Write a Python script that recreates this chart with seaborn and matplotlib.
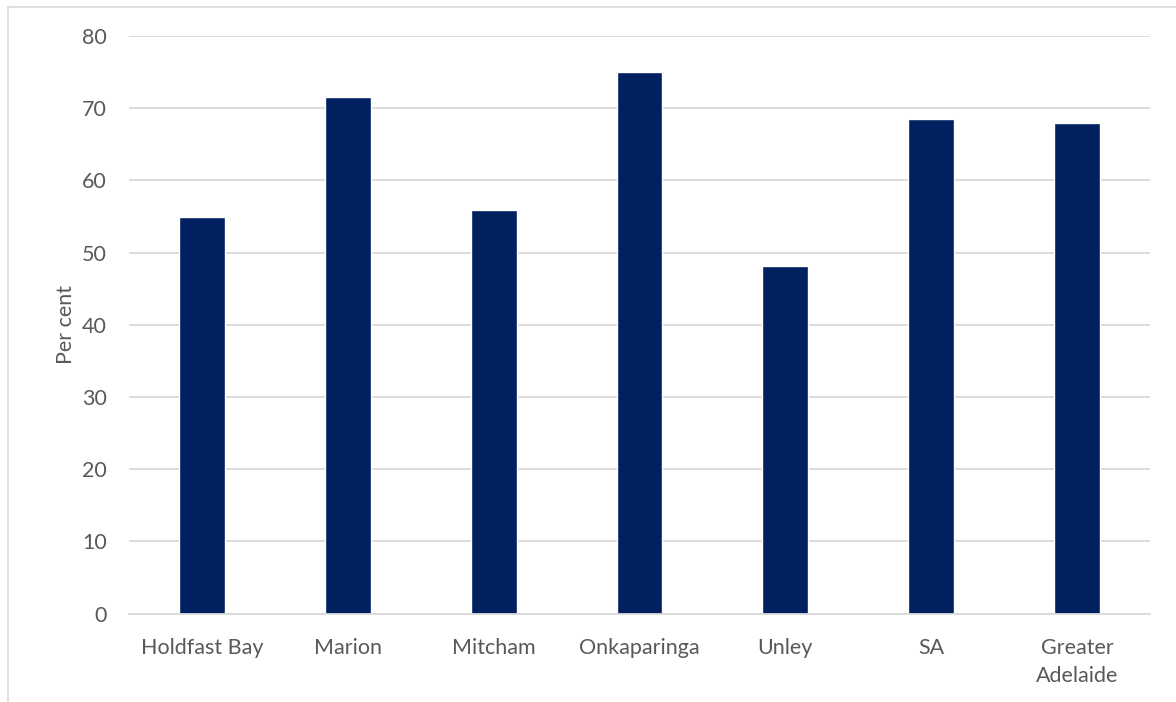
import matplotlib
matplotlib.use("Agg")
import matplotlib.pyplot as plt
import seaborn as sns
import pandas as pd
from matplotlib.patches import Rectangle

categories = ["Holdfast Bay", "Marion", "Mitcham", "Onkaparinga", "Unley", "SA", "Greater\nAdelaide"]
values = [54.9, 71.5, 55.9, 75.0, 48.1, 68.5, 67.9]
yticks = [0, 10, 20, 30, 40, 50, 60, 70, 80]

sns.set_style("white")
plt.rcParams['font.family'] = ['Lato', 'DejaVu Sans']

df = pd.DataFrame({"cat": categories, "val": values})

fig = plt.figure(figsize=(11.76, 7.02), dpi=100)
ax = fig.add_axes([129/1176, 1 - 613.5/702, (1150-129)/1176, (613.5-36)/702])

sns.barplot(data=df, x="cat", y="val", color="#002060", width=0.315, ax=ax, saturation=1)

ax.set_ylim(0, 80)
ax.set_yticks(yticks)
ax.set_xlim(-0.5, len(categories) - 0.5)
ax.yaxis.grid(True, color="#d9d9d9", linewidth=1.3)
ax.set_axisbelow(True)
for s in ["top", "right", "left"]:
    ax.spines[s].set_visible(False)
ax.spines["bottom"].set_color("#d9d9d9")
ax.spines["bottom"].set_linewidth(1.3)
ax.tick_params(axis="both", length=0, labelsize=15.5, colors="#595959")
ax.tick_params(axis="y", pad=16)
ax.tick_params(axis="x", pad=18)
for lbl in ax.get_xticklabels():
    lbl.set_linespacing(1.45)
ax.set_xlabel("")
ax.set_ylabel("Per cent", fontsize=15.5, color="#595959", labelpad=4)

fig.patches.append(Rectangle((8/1176, -0.01), 1.1, 1 - 7/702 + 0.01, transform=fig.transFigure,
                             fill=False, edgecolor="#d9d9d9", linewidth=1.2))

fig.savefig("out.png", dpi=100)
